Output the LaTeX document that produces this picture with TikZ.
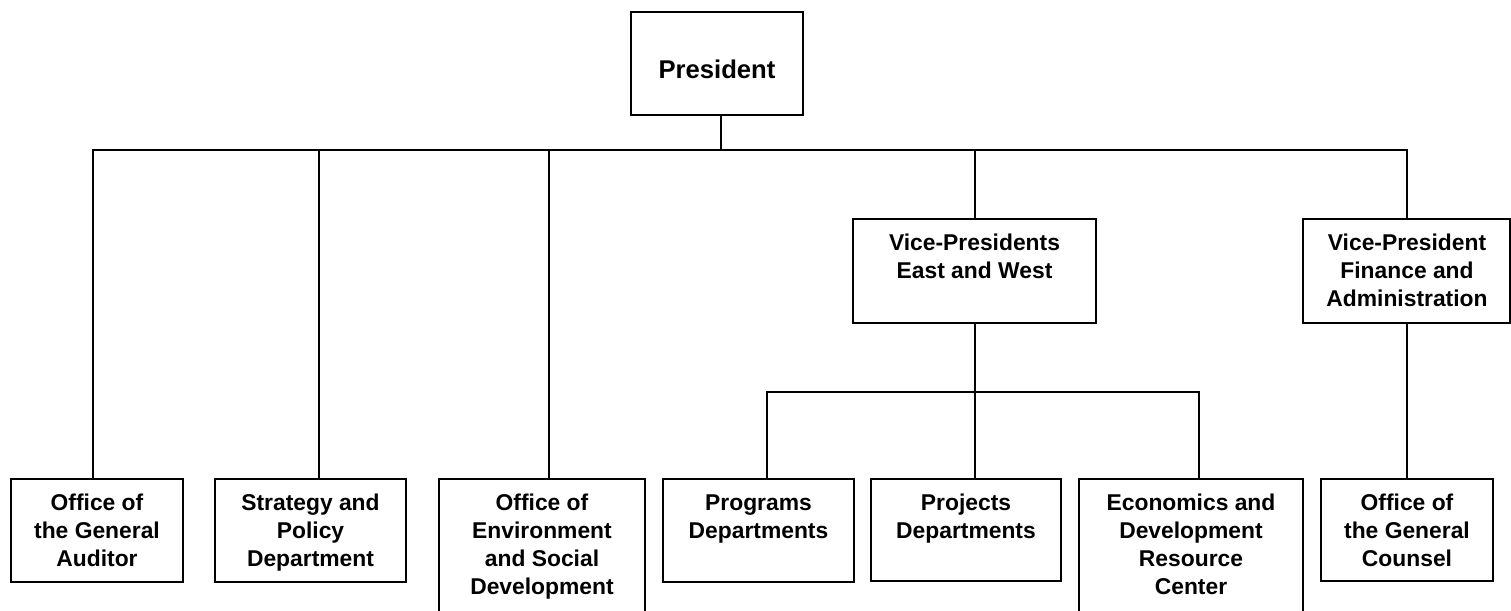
\documentclass[tikz,border=0pt]{standalone}
\usepackage{fontspec}
\setmainfont{Liberation Sans}
\usetikzlibrary{fit}

\begin{document}
\begin{tikzpicture}[x=0.02cm,y=-0.02cm,
  box/.style={draw,line width=0.8pt,inner sep=0pt},
  txt/.style={anchor=north,align=center,inner sep=0pt,font=\fontsize{13}{15.9}\selectfont\bfseries},
  link/.style={line width=0.8pt}]

% Page frame
\useasboundingbox (0,0) rectangle (1511,610);
\clip (0,0) rectangle (1511,610);
\fill[white] (0,0) rectangle (1511,610);

% Draw the top boxes
\node[box,fit={(631,12) (803,115)}] (pres) {};
\node[box,fit={(853,219) (1096,323)}] (vpew) {};
\node[box,fit={(1303,219) (1510,323)}] (vpfa) {};
% Draw the bottom boxes
\node[box,fit={(11,479) (183,582)}] (aud) {};
\node[box,fit={(215,479) (406,582)}] (strat) {};
\node[box,fit={(439,479) (645,625)}] (env) {};
\node[box,fit={(663,479) (854,582)}] (prog) {};
\node[box,fit={(871,479) (1061,581)}] (proj) {};
\node[box,fit={(1079,479) (1303,625)}] (econ) {};
\node[box,fit={(1321,479) (1493,581)}] (counsel) {};

% Box texts
\node[txt,anchor=center,font=\fontsize{14.6}{17}\selectfont\bfseries] (pres-t) at (717,69) {President};
\node[txt] (vpew-t) at (974.5,233.5) {Vice-Presidents\\East and West};
\node[txt] (vpfa-t) at (1407,233.5) {Vice-President\\Finance and\\Administration};
\node[txt] (aud-t) at (97,493.5) {Office of\\the General\\Auditor};
\node[txt] (strat-t) at (310.5,493.5) {Strategy and\\Policy\\Department};
\node[txt] (env-t) at (542,493.5) {Office of\\Environment\\and Social\\Development};
\node[txt] (prog-t) at (758.5,494.5) {Programs\\Departments};
\node[txt] (proj-t) at (966,493.5) {Projects\\Departments};
\node[txt] (econ-t) at (1191,493.5) {Economics and\\Development\\Resource\\Center};
\node[txt] (counsel-t) at (1407,493.5) {Office of\\the General\\Counsel};

% Main bus under the president
\coordinate (bPres) at (721,150);
\coordinate (bAud) at (93,150);
\coordinate (bStrat) at (319,150);
\coordinate (bEnv) at (549,150);
\coordinate (bVpew) at (975,150);
\coordinate (bVpfa) at (1407,150);
\draw[link] (bPres |- pres.south) -- (bPres);
\draw[link] (bAud |- aud.north) -- (bAud) -- (bVpfa) -- (bVpfa |- vpfa.north);
\foreach \c/\n in {bStrat/strat,bEnv/env,bVpew/vpew}
  \draw[link] (\c) -- (\c |- \n.north);

% Bus under the vice-presidents east and west
\coordinate (sProg) at (767,392);
\coordinate (sProj) at (975,392);
\coordinate (sEcon) at (1199,392);
\draw[link] (sProj |- vpew.south) -- (sProj |- proj.north);
\draw[link] (sProg |- prog.north) -- (sProg) -- (sEcon) -- (sEcon |- econ.north);

% Finance and administration
\draw[link] (bVpfa |- vpfa.south) -- (bVpfa |- counsel.north);

\end{tikzpicture}
\end{document}
